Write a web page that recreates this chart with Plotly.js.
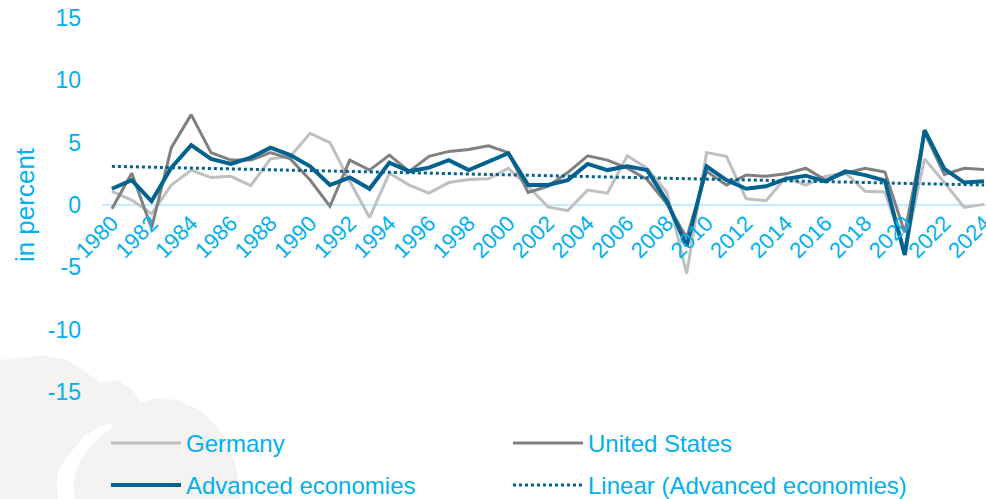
<!DOCTYPE html>
<html>
<head>
<meta charset="utf-8">
<script src="https://cdn.plot.ly/plotly-3.0.1.min.js"></script>
<style>html,body{margin:0;padding:0;background:#fff;}#chart{width:986px;height:499px;}</style>
</head>
<body>
<div id="chart"></div>
<script>
const years = [1980,1981,1982,1983,1984,1985,1986,1987,1988,1989,1990,1991,1992,1993,1994,1995,1996,1997,1998,1999,2000,2001,2002,2003,2004,2005,2006,2007,2008,2009,2010,2011,2012,2013,2014,2015,2016,2017,2018,2019,2020,2021,2022,2023,2024];
const germany = [1.1,0.4,-0.7,1.6,2.8,2.2,2.3,1.55,3.7,3.9,5.75,5.0,1.9,-1.0,2.55,1.6,0.95,1.8,2.05,2.1,2.95,1.5,-0.15,-0.45,1.2,0.95,3.95,2.95,1.0,-5.5,4.2,3.9,0.5,0.35,2.2,1.6,2.3,2.6,1.1,1.05,-3.7,3.7,1.8,-0.2,0.05];
const unitedStates = [-0.3,2.55,-1.85,4.6,7.25,4.2,3.6,3.6,4.2,3.7,2.0,-0.1,3.6,2.8,4.0,2.7,3.9,4.3,4.45,4.75,4.2,1.0,1.5,2.6,3.95,3.6,2.95,2.05,0.1,-2.6,2.7,1.6,2.4,2.3,2.5,2.95,2.0,2.55,2.95,2.65,-2.2,5.8,2.45,2.95,2.85];
const advanced = [1.3,2.0,0.3,3.0,4.8,3.7,3.3,3.8,4.6,4.0,3.1,1.6,2.2,1.3,3.4,2.7,3.0,3.6,2.8,3.5,4.15,1.6,1.6,2.0,3.3,2.8,3.1,2.8,0.3,-3.3,3.1,2.0,1.3,1.5,2.1,2.35,1.9,2.7,2.4,1.95,-4.0,6.0,2.9,1.8,1.9];
const trendYears = [1980, 2024];
const trendValues = [3.1, 1.6];
const tickYears = [1980,1982,1984,1986,1988,1990,1992,1994,1996,1998,2000,2002,2004,2006,2008,2010,2012,2014,2016,2018,2020,2022,2024];
const tickLabels = tickYears.map(String);
const yTicks = [-15,-10,-5,0,5,10,15];
const yTickLabels = ["-15","-10","-5","0","5","10","15"];
const seriesNames = ["Germany", "United States", "Advanced economies", "Linear (Advanced economies)"];

const blue = "#00B0F0";
const font = "Liberation Sans, Arial, sans-serif";

const traces = [
  {x: years, y: germany, name: seriesNames[0], type: "scatter", mode: "lines",
   line: {color: "#BFBFBF", width: 3}, legend: "legend"},
  {x: years, y: unitedStates, name: seriesNames[1], type: "scatter", mode: "lines",
   line: {color: "#808080", width: 3}, legend: "legend"},
  {x: years, y: advanced, name: seriesNames[2], type: "scatter", mode: "lines",
   line: {color: "#00628F", width: 4}, legend: "legend2"},
  {x: trendYears, y: trendValues, name: seriesNames[3], type: "scatter", mode: "lines",
   line: {color: "#00628F", width: 3, dash: "dot"}, legend: "legend2"}
];

function px2paperX(p){ return (p - 102) / 884; }
function px2paperY(p){ return (392 - p) / 374; }
function pathFrom(pts){
  return pts.map((p,i)=> (i?"L":"M") + px2paperX(p[0]).toFixed(4) + "," + px2paperY(p[1]).toFixed(4)).join(" ") + " Z";
}
const blobPts = [[0,360],[43,355],[67,360],[87,373],[100,383],[117,380],[133,390],[140,403],[157,398],[177,400],[200,410],[217,427],[230,447],[237,470],[240,499],[0,499]];
const streakPts = [[110,423],[100,427],[83,437],[67,457],[58,470],[57,483],[58,499],[75,499],[73,483],[77,467],[87,450],[100,437],[113,427]];

const legendCommon = {
  orientation: "h", xanchor: "left", yanchor: "top",
  entrywidth: 317, entrywidthmode: "pixels", itemwidth: 70,
  font: {size: 24, color: blue, family: font}, bgcolor: "rgba(0,0,0,0)"
};

const layout = {
  width: 986, height: 499,
  margin: {l: 102, r: 0, t: 18, b: 107, autoexpand: false},
  paper_bgcolor: "#ffffff",
  plot_bgcolor: "rgba(0,0,0,0)",
  font: {family: font, color: blue},
  showlegend: true,
  xaxis: {
    type: "linear",
    range: [1979.5, 2024.1],
    anchor: "free", position: 0.5,
    tickmode: "array", tickvals: tickYears, ticktext: tickLabels,
    tickangle: -45,
    tickfont: {size: 22, color: blue, family: font},
    ticklabeloverflow: "allow",
    automargin: false,
    showgrid: false, zeroline: false, showline: false, ticks: ""
  },
  yaxis: {
    range: [-15, 15],
    tickmode: "array", tickvals: yTicks, ticktext: yTickLabels,
    tickfont: {size: 23, color: blue, family: font},
    showgrid: false,
    zeroline: true, zerolinecolor: "#C5ECFA", zerolinewidth: 2,
    showline: false, ticks: "",
    ticklabelstandoff: 20,
    automargin: false,
    title: {text: "in percent", font: {size: 26, color: blue, family: font}, standoff: 5}
  },
  legend: Object.assign({x: px2paperX(106), y: px2paperY(421)}, legendCommon),
  legend2: Object.assign({x: px2paperX(106), y: px2paperY(463)}, legendCommon),
  shapes: [
    {type: "path", xref: "paper", yref: "paper", layer: "below", path: pathFrom(blobPts),
     fillcolor: "#F4F3F1", line: {width: 0}},
    {type: "path", xref: "paper", yref: "paper", layer: "below", path: pathFrom(streakPts),
     fillcolor: "#FFFFFF", line: {width: 0}}
  ]
};

Plotly.newPlot("chart", traces, layout, {displayModeBar: false, staticPlot: true});
</script>
</body>
</html>
